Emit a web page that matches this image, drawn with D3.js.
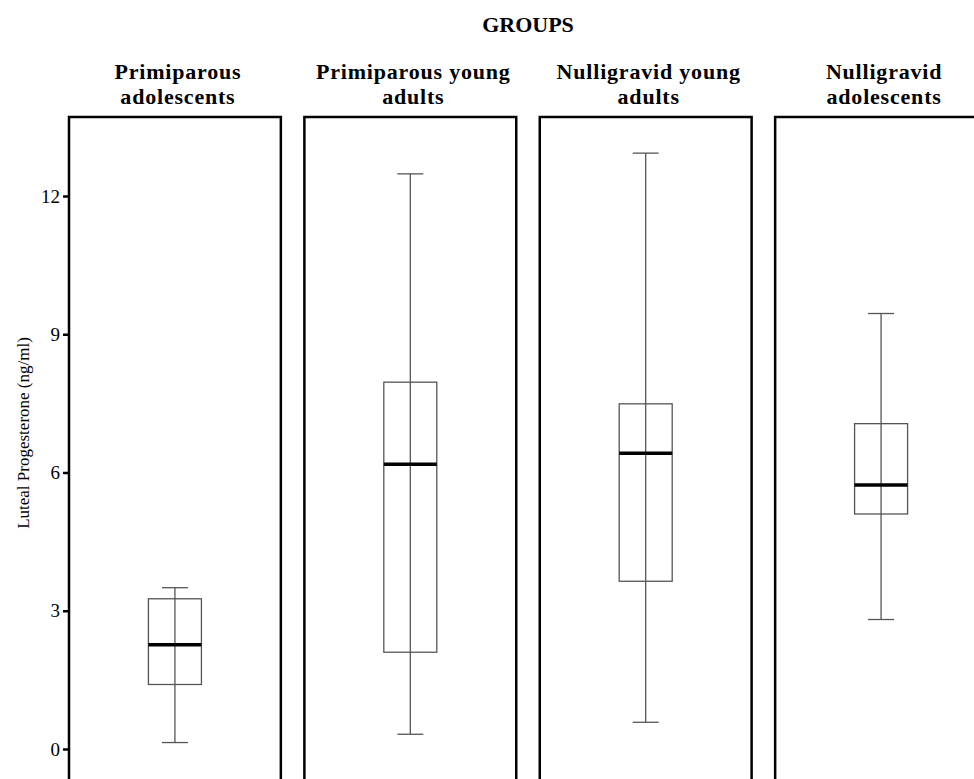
<!DOCTYPE html>
<html><head><meta charset="utf-8">
<script src="https://cdn.jsdelivr.net/npm/d3@7"></script>
<style>body{margin:0;background:#fff}svg{display:block}</style>
</head><body>
<script>
const groups = ["Primiparous adolescents","Primiparous young adults","Nulligravid young adults","Nulligravid adolescents"];
const headerLines = [["Primiparous","adolescents"],["Primiparous young","adults"],["Nulligravid young","adults"],["Nulligravid","adolescents"]];
const whiskerLow  = [0.14, 0.32, 0.58, 2.81];
const q1          = [1.40, 2.10, 3.64, 5.10];
const median      = [2.26, 6.18, 6.42, 5.73];
const q3          = [3.26, 7.96, 7.49, 7.06];
const whiskerHigh = [3.50, 12.48, 12.93, 9.45];
const yTicks = [0, 3, 6, 9, 12];

const W = 974, H = 779;
const svg = d3.select("body").append("svg").attr("width", W).attr("height", H);
const font = "'Liberation Serif','Times New Roman',serif";

const y = d3.scaleLinear().domain([0, 12]).range([749, 196]);
const x = d3.scaleBand().domain(groups).range([69, 987]).paddingInner(0.1).paddingOuter(0);
const panelTop = 117;

svg.append("text").attr("x", 528).attr("y", 32).attr("text-anchor", "middle")
  .attr("font-family", font).attr("font-weight", "bold").attr("font-size", 22).text("GROUPS");

const data = groups.map((g, i) => ({g, lines: headerLines[i], lo: whiskerLow[i], q1: q1[i], med: median[i], q3: q3[i], hi: whiskerHigh[i]}));

const panel = svg.selectAll("g.panel").data(data).join("g").attr("class", "panel")
  .attr("transform", d => `translate(${x(d.g)},0)`);

const bw = x.bandwidth();
panel.append("rect").attr("x", 0).attr("y", panelTop).attr("width", bw).attr("height", 800 - panelTop)
  .attr("fill", "none").attr("stroke", "#000").attr("stroke-width", 2.5);

panel.each(function(d) {
  const sel = d3.select(this);
  d.lines.forEach((l, k) => sel.append("text").attr("text-anchor", "middle")
    .attr("font-family", font).attr("font-weight", "bold").attr("font-size", 22)
    .attr("letter-spacing", 0.8)
    .attr("x", bw / 2 + 3).attr("y", 79 + k * 24.5).text(l));
});

const cx = bw / 2, boxW = 53, capW = 26;
const gray = "#555";
panel.append("line").attr("x1", cx).attr("x2", cx).attr("y1", d => y(d.lo)).attr("y2", d => y(d.hi))
  .attr("stroke", gray).attr("stroke-width", 1.3);
panel.append("line").attr("x1", cx - capW / 2).attr("x2", cx + capW / 2).attr("y1", d => y(d.hi)).attr("y2", d => y(d.hi))
  .attr("stroke", gray).attr("stroke-width", 1.3);
panel.append("line").attr("x1", cx - capW / 2).attr("x2", cx + capW / 2).attr("y1", d => y(d.lo)).attr("y2", d => y(d.lo))
  .attr("stroke", gray).attr("stroke-width", 1.3);
panel.append("rect").attr("x", cx - boxW / 2).attr("width", boxW).attr("y", d => y(d.q3)).attr("height", d => y(d.q1) - y(d.q3))
  .attr("fill", "none").attr("stroke", gray).attr("stroke-width", 1.3);
panel.append("line").attr("x1", cx - boxW / 2).attr("x2", cx + boxW / 2).attr("y1", d => y(d.med)).attr("y2", d => y(d.med))
  .attr("stroke", "#000").attr("stroke-width", 3.5);

const axis = svg.append("g").attr("transform", `translate(${x(groups[0])},0)`)
  .call(d3.axisLeft(y).tickValues(yTicks).tickSize(6).tickPadding(3).tickFormat(d3.format("d")));
axis.select(".domain").remove();
axis.selectAll(".tick line").attr("stroke", "#000").attr("stroke-width", 2.5);
axis.selectAll(".tick text").attr("font-family", font).attr("font-size", 19).attr("fill", "#000");

svg.append("text").attr("transform", "translate(23,433) rotate(-90)").attr("text-anchor", "middle")
  .attr("dy", "0.35em").attr("font-family", font).attr("font-size", 17).text("Luteal Progesterone (ng/ml)");
</script>
</body></html>
